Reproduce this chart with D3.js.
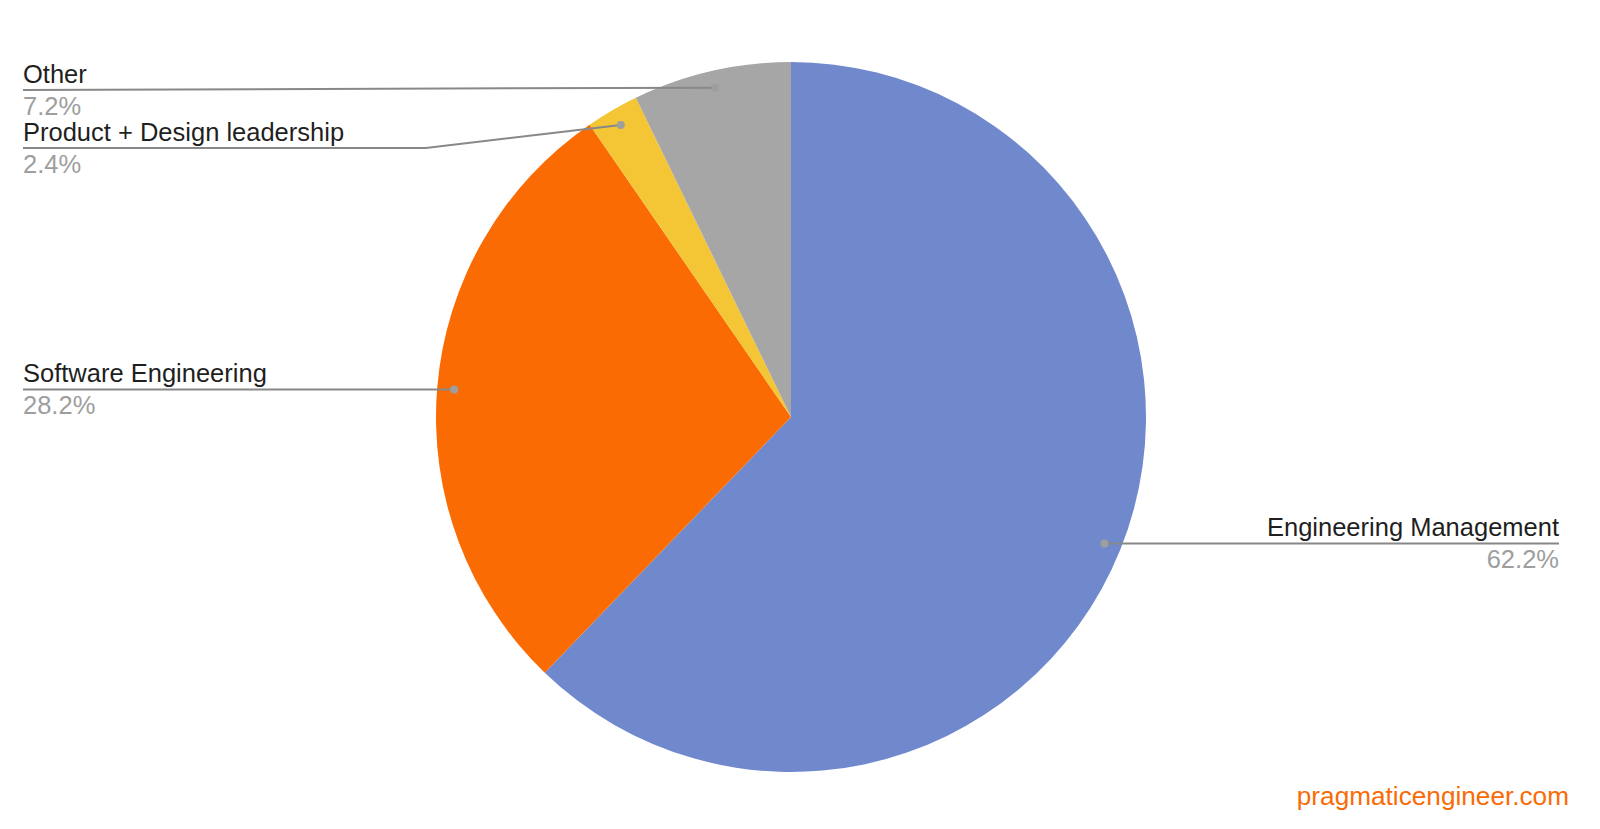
<!DOCTYPE html>
<html>
<head>
<meta charset="utf-8">
<script src="https://cdn.jsdelivr.net/npm/d3@7"></script>
<style>
  html, body { margin: 0; padding: 0; background: #ffffff; }
  svg { display: block; font-family: "Liberation Sans", Arial, Helvetica, sans-serif; }
</style>
</head>
<body>
<svg id="chart" width="1600" height="829"></svg>
<script>
const categories = ["Engineering Management", "Software Engineering", "Product + Design leadership", "Other"];
const values = [62.2, 28.2, 2.4, 7.2];
const percentLabels = ["62.2%", "28.2%", "2.4%", "7.2%"];
const colors = ["#7089cd", "#fa6b03", "#f4c534", "#a6a6a6"];
const watermark = "pragmaticengineer.com";

const W = 1600, H = 829;
const cx = 791, cy = 417, R = 355;
const dotR = R * 0.952;
const leftX = 23, rightX = 1559;
const minGap = 58;
const minLineY = 90;

const svg = d3.select("#chart");
const data = categories.map((c, i) => ({ name: c, value: values[i], pct: percentLabels[i], color: colors[i] }));

const pie = d3.pie().value(d => d.value).sort(null);
const arcs = pie(data);
const arc = d3.arc().innerRadius(0).outerRadius(R);

const g = svg.append("g").attr("transform", `translate(${cx},${cy})`);
g.selectAll("path").data(arcs).join("path")
  .attr("d", arc)
  .attr("fill", d => d.data.color);

// label positions
const labels = arcs.map(a => {
  const mid = (a.startAngle + a.endAngle) / 2;
  const dx = Math.sin(mid) * dotR, dy = -Math.cos(mid) * dotR;
  return { a, x: cx + dx, y: cy + dy, side: dx < 0 ? "left" : "right", lineY: Math.max(minLineY, cy + dy) };
});
["left", "right"].forEach(side => {
  const arr = labels.filter(l => l.side === side).sort((p, q) => p.y - q.y);
  for (let i = 1; i < arr.length; i++) {
    if (arr[i].lineY - arr[i - 1].lineY < minGap) arr[i].lineY = arr[i - 1].lineY + minGap;
  }
});

const lg = svg.append("g");
labels.forEach(l => {
  const endX = l.side === "left" ? leftX : rightX;
  let pts;
  if (Math.abs(l.lineY - l.y) > 6) {
    const bendX = l.side === "left" ? l.x - 195 : l.x + 195;
    pts = [[endX, l.lineY], [bendX, l.lineY], [l.x, l.y]];
  } else {
    pts = [[endX, l.lineY], [l.x, l.y]];
  }
  lg.append("path")
    .attr("d", d3.line()(pts))
    .attr("fill", "none")
    .attr("stroke", "#888888")
    .attr("stroke-width", 2);
  lg.append("circle")
    .attr("cx", l.x).attr("cy", l.y).attr("r", 4)
    .attr("fill", "#9e9e9e");
  const anchor = l.side === "left" ? "start" : "end";
  lg.append("text")
    .attr("x", endX).attr("y", l.lineY - 7)
    .attr("text-anchor", anchor)
    .attr("font-size", 25.5)
    .attr("fill", "#1f1f1f")
    .text(l.a.data.name);
  lg.append("text")
    .attr("x", endX).attr("y", l.lineY + 25)
    .attr("text-anchor", anchor)
    .attr("font-size", 25.5)
    .attr("fill", "#9e9e9e")
    .text(l.a.data.pct);
});

svg.append("text")
  .attr("x", 1569).attr("y", 805)
  .attr("text-anchor", "end")
  .attr("font-size", 26.2)
  .attr("fill", "#f96b05")
  .text(watermark);
</script>
</body>
</html>
